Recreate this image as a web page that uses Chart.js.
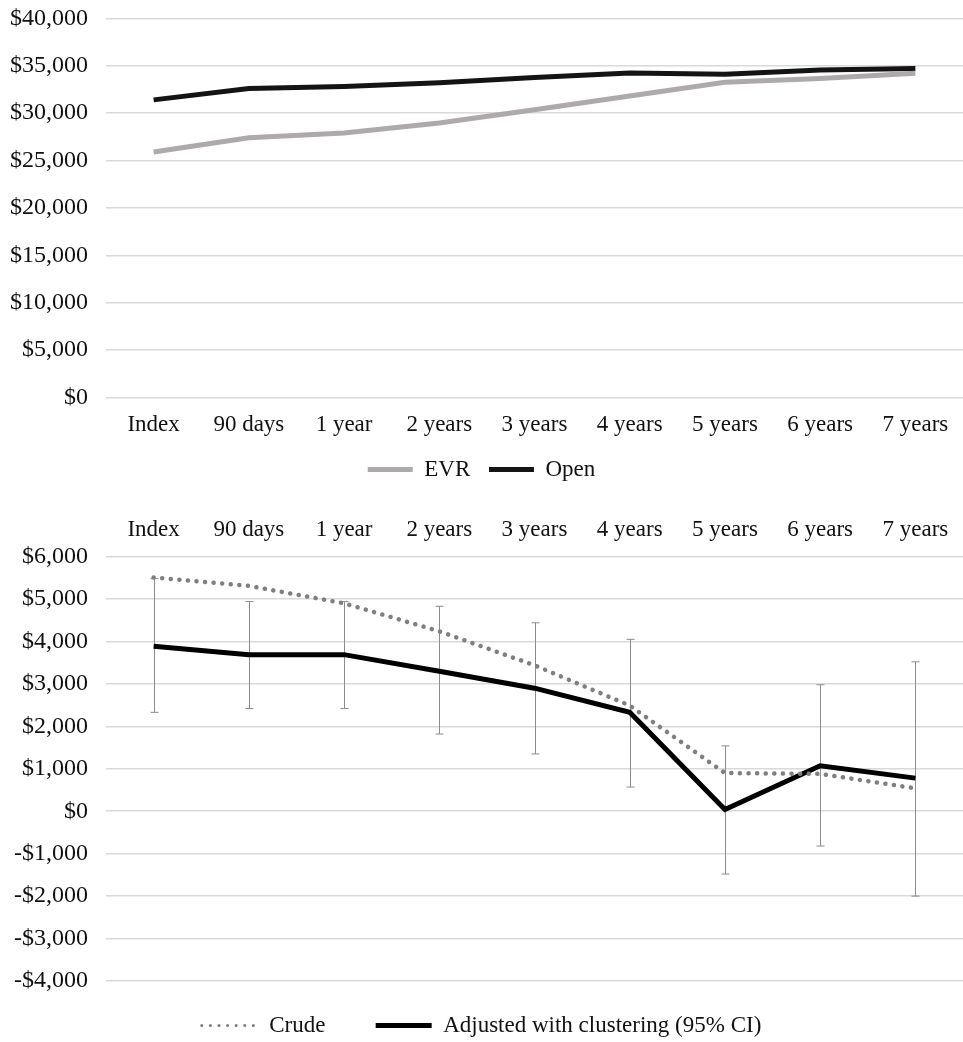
<!DOCTYPE html>
<html>
<head>
<meta charset="utf-8">
<script src="https://cdn.jsdelivr.net/npm/chart.js@4.4.0/dist/chart.umd.min.js"></script>
<style>
  body { margin: 0; background: #fff; overflow: hidden; }
  #top { position: absolute; left: 0; top: -14px; width: 963px; height: 513px; }
  #bottom { position: absolute; left: 0; top: 509px; width: 963px; height: 544px; }
</style>
</head>
<body>
<div id="top"><canvas id="costChart"></canvas></div>
<div id="bottom"><canvas id="diffChart"></canvas></div>
<script>
// categories shared by both panels
var periods = ['Index', '90 days', '1 year', '2 years', '3 years', '4 years', '5 years', '6 years', '7 years'];

// top panel: cumulative cost
var evrCost = [25900, 27400, 27900, 28950, 30350, 31800, 33250, 33650, 34200];
var openCost = [31400, 32600, 32800, 33200, 33750, 34250, 34100, 34550, 34700];

// bottom panel: cost difference
var crudeDiff = [5510, 5310, 4900, 4240, 3440, 2490, 900, 880, 540];
var adjustedDiff = [3890, 3690, 3690, 3300, 2900, 2330, 40, 1070, 780];
var ciUpper = [5480, 4940, 4940, 4830, 4440, 4050, 1540, 2980, 3520];
var ciLower = [2330, 2420, 2420, 1820, 1350, 570, -1480, -820, -2000];

var serif = '"Liberation Serif", "Times New Roman", serif';
var yFont = { family: serif, size: 24 };
var xFont = { family: serif, size: 23 };
var legendFont = { family: serif, size: 23 };
var gridColor = '#d9d9d9';
var textColor = '#111111';

function money(v) {
    var s = '$' + Math.abs(v).toLocaleString('en-US');
    return v < 0 ? '-' + s : s;
}

function yAxisWidth(scale) {
    scale.width = 106;
}

// default legend items, but keep each dataset's dash pattern on the sample line
function legendItems(chart) {
    var items = Chart.defaults.plugins.legend.labels.generateLabels(chart);
    items.forEach(function (item) {
        var ds = chart.data.datasets[item.datasetIndex];
        item.lineDash = ds.borderDash || [];
        item.lineCap = ds.borderCapStyle || 'butt';
        item.lineWidth = ds.legendWidth || ds.borderWidth;
        item.text = ds.label + (ds.legendGap || '');
    });
    return items;
}

new Chart(document.getElementById('costChart').getContext('2d'), {
    type: 'line',
    data: {
        labels: periods,
        datasets: [{
            label: 'EVR',
            data: evrCost,
            borderColor: '#aeaaaa',
            backgroundColor: '#aeaaaa',
            borderWidth: 5,
            pointRadius: 0,
            tension: 0,
            legendGap: ' '
        }, {
            label: 'Open',
            data: openCost,
            borderColor: '#141414',
            backgroundColor: '#141414',
            borderWidth: 5,
            pointRadius: 0,
            tension: 0
        }]
    },
    options: {
        responsive: true,
        maintainAspectRatio: false,
        animation: false,
        layout: { padding: { top: -6, right: 0, left: 0, bottom: 8 } },
        scales: {
            x: {
                offset: true,
                grid: { display: false },
                border: { display: false },
                ticks: { font: xFont, color: textColor, padding: 6, maxRotation: 0 }
            },
            y: {
                min: 0,
                max: 40000,
                afterFit: yAxisWidth,
                grid: { color: gridColor, lineWidth: 1.5, drawTicks: false },
                border: { display: false },
                ticks: { stepSize: 5000, font: yFont, color: textColor, padding: 18, callback: money }
            }
        },
        plugins: {
            tooltip: { enabled: false },
            legend: {
                position: 'bottom',
                labels: {
                    font: legendFont,
                    color: textColor,
                    usePointStyle: true,
                    pointStyle: 'line',
                    pointStyleWidth: 45,
                    boxHeight: 10,
                    padding: 13,
                    generateLabels: legendItems
                }
            }
        }
    }
});

// vertical 95% CI whiskers drawn from the CI arrays on the chart's own scales
var errorBars = {
    id: 'errorBars',
    beforeDatasetsDraw: function (chart) {
        var meta = chart.getDatasetMeta(1);
        var y = chart.scales.y;
        var c = chart.ctx;
        c.save();
        c.strokeStyle = '#8c8c8c';
        c.lineWidth = 1;
        meta.data.forEach(function (pt, i) {
            var x = Math.round(pt.x) + 0.5;
            var hi = y.getPixelForValue(ciUpper[i]);
            var lo = y.getPixelForValue(ciLower[i]);
            c.beginPath();
            c.moveTo(x, hi); c.lineTo(x, lo);
            c.moveTo(x - 4, hi); c.lineTo(x + 4, hi);
            c.moveTo(x - 4, lo); c.lineTo(x + 4, lo);
            c.stroke();
        });
        c.restore();
    }
};

new Chart(document.getElementById('diffChart').getContext('2d'), {
    type: 'line',
    data: {
        labels: periods,
        datasets: [{
            label: 'Crude',
            data: crudeDiff,
            borderColor: '#7f7f7f',
            backgroundColor: '#7f7f7f',
            borderWidth: 4.5,
            borderDash: [0.1, 8.5],
            borderCapStyle: 'round',
            pointRadius: 0,
            tension: 0,
            legendWidth: 3,
            legendGap: '   '
        }, {
            label: 'Adjusted with clustering (95% CI)',
            data: adjustedDiff,
            borderColor: '#000000',
            backgroundColor: '#000000',
            borderWidth: 5,
            pointRadius: 0,
            tension: 0
        }]
    },
    options: {
        responsive: true,
        maintainAspectRatio: false,
        animation: false,
        layout: { padding: { top: 2, right: 0, left: 0, bottom: 6 } },
        scales: {
            x: {
                position: 'top',
                offset: true,
                grid: { display: false },
                border: { display: false },
                ticks: { font: xFont, color: textColor, padding: 5, maxRotation: 0 }
            },
            y: {
                min: -4000,
                max: 6000,
                afterFit: yAxisWidth,
                grid: { color: gridColor, lineWidth: 1.5, drawTicks: false },
                border: { display: false },
                ticks: { stepSize: 1000, font: yFont, color: textColor, padding: 18, callback: money }
            }
        },
        plugins: {
            tooltip: { enabled: false },
            legend: {
                position: 'bottom',
                labels: {
                    font: legendFont,
                    color: textColor,
                    usePointStyle: true,
                    pointStyle: 'line',
                    pointStyleWidth: 56,
                    boxHeight: 10,
                    padding: 33,
                    generateLabels: legendItems
                }
            }
        }
    },
    plugins: [errorBars]
});
</script>
</body>
</html>
